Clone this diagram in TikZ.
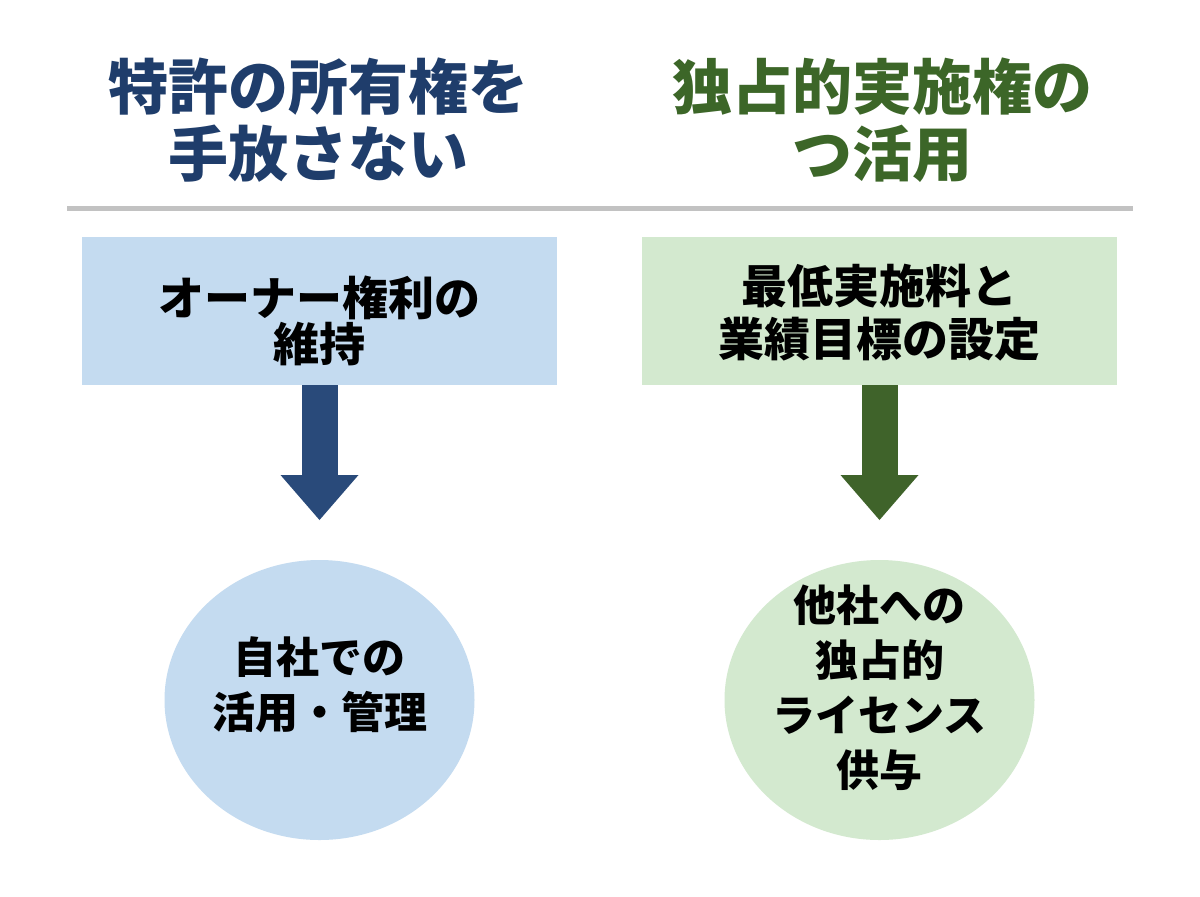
\documentclass[tikz,border=0pt]{standalone}
\usepackage{fontspec}
\setmainfont{Noto Sans CJK JP}
\usetikzlibrary{arrows.meta,positioning,shapes.geometric}
\definecolor{navy}{HTML}{1F3D6B}
\definecolor{leaf}{HTML}{3C6628}
\definecolor{navyar}{HTML}{294A7A}
\definecolor{leafar}{HTML}{3F632A}
\definecolor{skyfill}{HTML}{C4DBF0}
\definecolor{mintfill}{HTML}{D3E9CF}
\definecolor{rule}{HTML}{C2C2C2}

\begin{document}
\begin{tikzpicture}[x=0.5pt,y=-0.5pt,node distance=42.5pt,
  ttl/.style={align=center,font=\bfseries\fontsize{30}{33.5}\selectfont},
  box/.style={rectangle,outer sep=0pt,inner sep=0pt,
              minimum width=237.5pt,minimum height=74pt},
  boxtxt/.style={align=center,inner sep=0pt,
                 font=\bfseries\fontsize{23}{26.5}\selectfont},
  blob/.style={ellipse,outer sep=0pt,inner sep=0pt,
               minimum width=155pt,minimum height=140pt},
  blobtxt/.style={align=center,inner sep=0pt,
                  font=\bfseries\fontsize{21.5}{27.5}\selectfont},
  ar/.style={-{Triangle[length=22.5pt,width=39pt,line width=0pt]},
             line width=18pt,shorten >=20pt}]
\useasboundingbox[fill=white] (0,0) rectangle (1200,896);
% headings
\node[ttl,text=navy] (lttl) at (318,120) {特許の所有権を\\手放さない};
\node[ttl,text=leaf] (rttl) at (882,120) {独占的実施権の\\つ活用};
\draw[rule,line width=2.5pt] (67,208) -- (1133,208);
% boxes
\node[box,fill=skyfill] (lbox) at (319.5,311) {};
\node[box,fill=mintfill,right=of lbox] (rbox) {};
\node[boxtxt,font=\bfseries\fontsize{23}{21.5}\selectfont]
  (lboxtxt) at ([yshift=-5pt]lbox.center) {オーナー権利の\\維持};
\node[boxtxt] (rboxtxt) at ([yshift=-1pt]rbox.center) {最低実施料と\\業績目標の設定};
% circles
\node[blob,fill=skyfill,below=87.5pt of lbox] (lcirc) {};
\node[blob,fill=mintfill,below=87.5pt of rbox] (rcirc) {};
\node[blobtxt] (lcirctxt) at ([yshift=7.5pt]lcirc.center) {自社での\\活用・管理};
\node[blobtxt] (rcirctxt) at ([yshift=6pt]rcirc.center) {他社への\\独占的\\ライセンス\\供与};
\draw[ar,navyar] (lbox) -- (lcirc);
\draw[ar,leafar] (rbox) -- (rcirc);
\end{tikzpicture}
\end{document}
